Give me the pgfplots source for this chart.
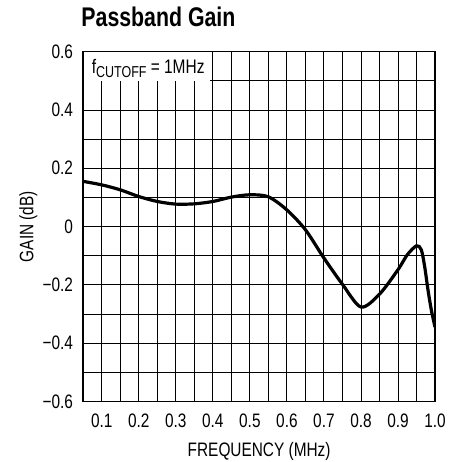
\documentclass[border=0pt]{standalone}
\usepackage{fontspec}
\setmainfont[FakeStretch=0.79]{Liberation Sans}
\usepackage{pgfplots}
\pgfplotsset{compat=1.18}
\begin{document}
\begin{tikzpicture}
\begin{axis}[
  set layers,
  scale only axis,
  width=352pt, height=350pt,
  xmin=0.05, xmax=1.0, ymin=-0.6, ymax=0.6,
  xtick={0.1,0.2,0.3,0.4,0.5,0.6,0.7,0.8,0.9,1.0},
  xticklabels={0.1,0.2,0.3,0.4,0.5,0.6,0.7,0.8,0.9,1.0},
  minor xtick={0.05,0.15,0.25,0.35,0.45,0.55,0.65,0.75,0.85,0.95},
  ytick={-0.6,-0.4,-0.2,0,0.2,0.4,0.6},
  yticklabels={−0.6,−0.4,−0.2,0,0.2,0.4,0.6},
  minor ytick={-0.5,-0.3,-0.1,0.1,0.3,0.5},
  grid=both,
  major grid style={black, line width=0.9pt},
  minor grid style={black, line width=0.9pt},
  major tick length=0pt, minor tick length=0pt,
  axis line style={line width=1.6pt},
  tick label style={font=\fontsize{19.5}{22}\selectfont},
  yticklabel style={anchor=east, inner sep=0pt, xshift=-10pt},
  xticklabel style={anchor=north, inner sep=0pt, yshift=-12pt},
  xlabel={FREQUENCY (MHz)},
  ylabel={GAIN (dB)},
  label style={font=\fontsize{19.5}{22}\selectfont, inner sep=0pt},
  xlabel style={at={(axis description cs:0.5,0)}, anchor=base, yshift=-54.7pt},
  ylabel style={at={([xshift=-50pt]axis description cs:0,0.5)}, anchor=base},
  title={Passband Gain},
  title style={font=\fontsize{27}{30}\selectfont\bfseries, at={(axis description cs:0,1)}, anchor=base west, inner sep=0pt, yshift=19pt, xshift=-2pt},
]
\begin{pgfonlayer}{axis ticks}
\fill[white] (axis cs:0.05,0.5) rectangle (axis cs:0.392,0.6);
\end{pgfonlayer}
\node[anchor=base west, inner sep=0pt, font=\fontsize{19.6}{22}\selectfont] at ([xshift=8.4pt,yshift=-22pt]axis description cs:0,1) {f\raisebox{-4pt}{\fontsize{15.8}{16}\selectfont CUTOFF} = 1MHz};
\addplot[black, line width=3.2pt, smooth, tension=0.5] coordinates {
(0.05,0.155) (0.10,0.143) (0.15,0.126) (0.20,0.103) (0.25,0.086) (0.30,0.077)
(0.35,0.078) (0.40,0.086) (0.45,0.101) (0.50,0.109) (0.55,0.102) (0.60,0.057)
(0.65,-0.011) (0.70,-0.108) (0.75,-0.198) (0.80,-0.276) (0.85,-0.232) (0.90,-0.148)
(0.925,-0.097) (0.95,-0.066) (0.963,-0.080) (0.972,-0.137) (0.981,-0.217) (0.99,-0.286) (1.0,-0.345)
};
\end{axis}
\pgfresetboundingbox
\path[use as bounding box] ([xshift=-83.3pt,yshift=-60pt]current axis.south west) rectangle ([xshift=28pt,yshift=51.7pt]current axis.north east);
\end{tikzpicture}
\end{document}
